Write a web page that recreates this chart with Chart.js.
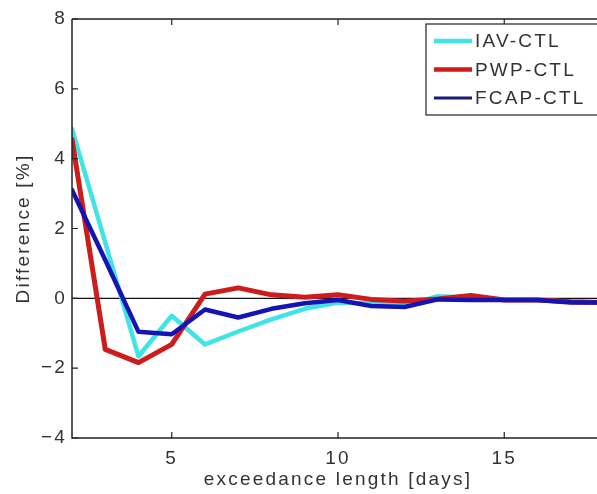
<!DOCTYPE html>
<html>
<head>
<meta charset="utf-8">
<script src="https://cdn.jsdelivr.net/npm/chart.js@4/dist/chart.umd.min.js"></script>
<style>
  html, body { margin: 0; padding: 0; background: #fff; overflow: hidden; width: 597px; height: 494px; }
  #wrap { width: 597px; height: 494px; overflow: hidden; }
  canvas { display: block; }
</style>
</head>
<body>
<div id="wrap"><canvas id="c" width="606" height="494"></canvas></div>
<script>
const days = [2, 3, 4, 5, 6, 7, 8, 9, 10, 11, 12, 13, 14, 15, 16, 17, 18];
const iavCtl  = [4.85, 1.6, -1.66, -0.5, -1.32, -0.95, -0.6, -0.3, -0.12, -0.15, -0.2, 0.06, 0.02, -0.05, -0.05, -0.1, -0.12];
const pwpCtl  = [4.55, -1.46, -1.84, -1.32, 0.12, 0.3, 0.1, 0.03, 0.1, -0.03, -0.08, -0.02, 0.08, -0.05, -0.05, -0.1, -0.12];
const fcapCtl = [3.1, 1.1, -0.96, -1.03, -0.32, -0.55, -0.3, -0.14, -0.05, -0.22, -0.25, -0.03, -0.05, -0.05, -0.05, -0.12, -0.12];
const seriesLabels = ['IAV-CTL', 'PWP-CTL', 'FCAP-CTL'];
const xTicks = [5, 10, 15];
const yTicks = [-4, -2, 0, 2, 4, 6, 8];

const FONT = { family: 'Liberation Sans, Arial, sans-serif', size: 19 };
const TEXT = '#333';
const SPACING = '2.2px';

function pts(vals) { return days.map((d, i) => ({ x: d, y: vals[i] })); }

const spacingPlugin = {
  id: 'spacing',
  beforeLayout(chart) { chart.ctx.letterSpacing = SPACING; },
  beforeDraw(chart) { chart.ctx.letterSpacing = SPACING; }
};

const framePlugin = {
  id: 'frame',
  beforeDatasetsDraw(chart) {
    const { ctx, chartArea: a, scales } = chart;
    ctx.save();
    ctx.strokeStyle = '#111';
    ctx.lineWidth = 1.2;
    const y0 = scales.y.getPixelForValue(0);
    ctx.beginPath();
    ctx.moveTo(a.left, y0);
    ctx.lineTo(a.right, y0);
    ctx.stroke();
    ctx.restore();
  },
  afterDatasetsDraw(chart) {
    const { ctx, chartArea: a, scales } = chart;
    ctx.save();
    ctx.strokeStyle = '#222';
    ctx.lineWidth = 1.5;
    ctx.beginPath();
    ctx.moveTo(a.left, a.top);
    ctx.lineTo(a.right, a.top);
    ctx.moveTo(a.left, a.top);
    ctx.lineTo(a.left, a.bottom);
    ctx.lineTo(a.right, a.bottom);
    ctx.stroke();
    ctx.lineWidth = 1.2;
    ctx.beginPath();
    xTicks.forEach(v => {
      const px = scales.x.getPixelForValue(v);
      ctx.moveTo(px, a.bottom); ctx.lineTo(px, a.bottom - 6);
      ctx.moveTo(px, a.top); ctx.lineTo(px, a.top + 6);
    });
    yTicks.forEach(v => {
      const py = scales.y.getPixelForValue(v);
      ctx.moveTo(a.left, py); ctx.lineTo(a.left + 6, py);
    });
    ctx.stroke();

    // legend box
    const bx = 426, by = 24, bw = 176, bh = 91;
    ctx.fillStyle = '#fff';
    ctx.fillRect(bx, by, bw, bh);
    ctx.strokeStyle = '#222';
    ctx.lineWidth = 1.2;
    ctx.strokeRect(bx, by, bw, bh);
    ctx.letterSpacing = SPACING;
    ctx.font = FONT.size + 'px ' + FONT.family;
    ctx.textBaseline = 'middle';
    ctx.textAlign = 'left';
    chart.data.datasets.forEach((ds, i) => {
      const cy = by + 17 + i * 28.5;
      ctx.strokeStyle = i === 2 ? '#1a1a78' : ds.borderColor;
      ctx.lineWidth = i === 2 ? 3 : 4.5;
      ctx.beginPath();
      ctx.moveTo(434, cy); ctx.lineTo(472, cy);
      ctx.stroke();
      ctx.fillStyle = TEXT;
      ctx.fillText(ds.label, 475, cy + 1);
    });
    ctx.restore();
  }
};

new Chart(document.getElementById('c'), {
  type: 'line',
  data: {
    datasets: [
      { label: seriesLabels[0], data: pts(iavCtl), borderColor: '#40e4e4', borderWidth: 4.5, order: 2 },
      { label: seriesLabels[1], data: pts(pwpCtl), borderColor: '#cc1c1c', borderWidth: 5, order: 1 },
      { label: seriesLabels[2], data: pts(fcapCtl), borderColor: '#1414b4', borderWidth: 4.5, order: 0 }
    ]
  },
  options: {
    responsive: false,
    animation: false,
    layout: { padding: { left: 0, top: 19, right: 2, bottom: 0 } },
    elements: { point: { radius: 0 }, line: { tension: 0, borderCapStyle: 'round', borderJoinStyle: 'round' } },
    plugins: { legend: { display: false }, tooltip: { enabled: false } },
    scales: {
      x: {
        type: 'linear', min: 2, max: 18,
        afterBuildTicks(s) { s.ticks = xTicks.map(v => ({ value: v })); },
        afterFit(s) { s.height = 56; },
        grid: { display: false, drawTicks: false },
        border: { display: false },
        ticks: { font: FONT, color: TEXT, padding: 9, maxRotation: 0 },
        title: { display: true, text: 'exceedance length [days]', font: FONT, color: TEXT, padding: { top: 0, bottom: 3 } }
      },
      y: {
        type: 'linear', min: -4, max: 8,
        afterBuildTicks(s) { s.ticks = yTicks.map(v => ({ value: v })); },
        afterFit(s) { s.width = 72; },
        grid: { display: false, drawTicks: false },
        border: { display: false },
        ticks: { font: FONT, color: TEXT, padding: 5, callback: v => (v < 0 ? '\u2212' + Math.abs(v) : String(v)) },
        title: { display: true, text: 'Difference [%]', font: FONT, color: TEXT, padding: { top: 12, bottom: 0 } }
      }
    }
  },
  plugins: [spacingPlugin, framePlugin]
});
</script>
</body>
</html>
